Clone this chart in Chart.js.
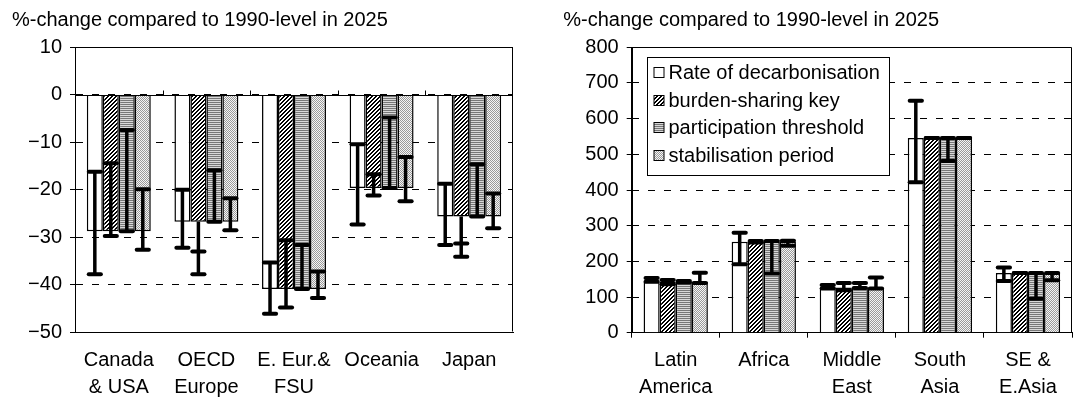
<!DOCTYPE html>
<html>
<head>
<meta charset="utf-8">
<script src="https://cdn.jsdelivr.net/npm/chart.js@4"></script>
<style>
  html, body { margin: 0; padding: 0; background: #fff; }
  #wrap { position: relative; width: 1074px; height: 397px; overflow: hidden; background: #fff; }
  canvas { position: absolute; top: 0; }
  #cLeft { left: 0; }
  #cRight { left: 537px; }
</style>
</head>
<body>
<div id="wrap">
  <canvas id="cLeft" width="537" height="397"></canvas>
  <canvas id="cRight" width="537" height="397"></canvas>
</div>
<script>
// ---- data ---------------------------------------------------------------
const axisTitle = '%-change compared to 1990-level in 2025';
const seriesNames = ['Rate of decarbonisation', 'burden-sharing key', 'participation threshold', 'stabilisation period'];

// Annex I regions
const leftCategories = [['Canada', '& USA'], ['OECD', 'Europe'], ['E. Eur.&', 'FSU'], 'Oceania', 'Japan'];
const leftTicks = [10, 0, -10, -20, -30, -40, -50];
const leftRate          = [-28.7, -26.7, -40.9, -19.6, -25.6];
const leftBurden        = [-28.7, -26.7, -40.9, -19.6, -25.6];
const leftThreshold     = [-28.7, -26.7, -40.9, -19.6, -25.6];
const leftStabilisation = [-28.7, -26.7, -40.9, -19.6, -25.6];
// uncertainty range ends [first, second] per region
const leftRateRange          = [[-16.2, -37.8], [-20.0, -32.2], [-35.3, -46.1], [-10.4, -27.3], [-18.7, -31.6]];
const leftBurdenRange        = [[-14.4, -29.7], [-33.0, -37.8], [-30.6, -44.8], [-16.7, -21.2], [-31.3, -34.1]];
const leftThresholdRange     = [[-7.4, -28.7],  [-15.9, -26.7], [-31.6, -40.9], [-4.8, -19.6],  [-14.6, -25.6]];
const leftStabilisationRange = [[-19.9, -32.6], [-21.8, -28.5], [-37.2, -42.8], [-13.1, -22.4], [-20.8, -28.1]];

// non-Annex I regions
const rightCategories = [['Latin', 'America'], 'Africa', ['Middle', 'East'], ['South', 'Asia'], ['SE &', 'E.Asia']];
const rightTicks = [0, 100, 200, 300, 400, 500, 600, 700, 800];
const rightRate          = [143, 255, 127, 546, 167];
const rightBurden        = [143, 255, 127, 546, 167];
const rightThreshold     = [143, 255, 127, 546, 167];
const rightStabilisation = [143, 255, 127, 546, 167];
const rightRateRange          = [[153, 143], [280, 192], [134, 124], [650, 422], [183, 145]];
const rightBurdenRange        = [[148, 136], [257, 253], [139, 119], [546, 546], [167, 167]];
const rightThresholdRange     = [[145, 141], [257, 166], [139, 125], [546, 481], [167, 95]];
const rightStabilisationRange = [[168, 139], [258, 244], [155, 124], [546, 546], [167, 147]];

// ---- fills ----------------------------------------------------------------
function makeFill(ctx, kind) {
  const c = document.createElement('canvas');
  const g = c.getContext('2d');
  if (kind === 'plain') return '#ffffff';
  if (kind === 'hatch') {
    c.width = 4; c.height = 4;
    g.fillStyle = '#ffffff'; g.fillRect(0, 0, 4, 4);
    g.fillStyle = '#000000';
    for (let y = 0; y < 4; y++) {
      g.fillRect((3 - y + 4) % 4, y, 1, 1);
      g.fillRect((4 - y + 4) % 4, y, 1, 1);
    }
  } else if (kind === 'stripes') {
    c.width = 1; c.height = 2;
    g.fillStyle = '#777777'; g.fillRect(0, 0, 1, 1);
    g.fillStyle = '#d8d8d8'; g.fillRect(0, 1, 1, 1);
  } else {
    c.width = 2; c.height = 2;
    g.fillStyle = '#f5f5f5'; g.fillRect(0, 0, 2, 2);
    g.fillStyle = '#9a9a9a'; g.fillRect(0, 0, 1, 1); g.fillRect(1, 1, 1, 1);
  }
  return ctx.createPattern(c, 'repeat');
}
const fillKinds = ['plain', 'hatch', 'stripes', 'dots'];

// ---- plugins --------------------------------------------------------------
const rangeBars = {
  id: 'rangeBars',
  afterDatasetsDraw(chart) {
    const ctx = chart.ctx;
    const ys = chart.scales.y;
    chart.data.datasets.forEach((ds, di) => {
      const meta = chart.getDatasetMeta(di);
      (ds.ranges || []).forEach((r, i) => {
        const bar = meta.data[i];
        if (!bar) return;
        const x = bar.x;
        const v = ys.getPixelForValue(ds.data[i]);
        const a = ys.getPixelForValue(r[0]);
        const b = ys.getPixelForValue(r[1]);
        const top = Math.min(v, a, b), bot = Math.max(v, a, b);
        ctx.save();
        ctx.strokeStyle = '#000';
        ctx.lineWidth = 3.5;
        ctx.beginPath(); ctx.moveTo(x, top); ctx.lineTo(x, bot); ctx.stroke();
        ctx.lineWidth = 4;
        ctx.lineCap = 'round';
        const half = bar.width * 0.38;
        [a, b].forEach(e => {
          ctx.beginPath(); ctx.moveTo(x - half, e); ctx.lineTo(x + half, e); ctx.stroke();
        });
        ctx.restore();
      });
    });
  }
};

const frame = {
  id: 'frame',
  afterDraw(chart, args, opts) {
    const ctx = chart.ctx;
    const ca = chart.chartArea;
    ctx.save();
    ctx.strokeStyle = '#000';
    ctx.lineWidth = 1;
    const L = Math.round(ca.left) + 0.5, R = Math.round(ca.right) - 0.5;
    const T = Math.round(ca.top) + 0.5, B = Math.round(ca.bottom) - 0.5;
    ctx.beginPath();
    ctx.moveTo(L, B); ctx.lineTo(L, T); ctx.lineTo(R, T); ctx.lineTo(R, B);
    ctx.stroke();
    if (opts.zeroLine) {
      const y0 = Math.round(chart.scales.y.getPixelForValue(0)) + 0.5;
      ctx.beginPath(); ctx.moveTo(L, y0); ctx.lineTo(R, y0); ctx.stroke();
      const n = chart.data.labels.length;
      const step = (ca.right - ca.left) / n;
      ctx.beginPath();
      for (let i = 1; i < n; i++) {
        const x = Math.round(ca.left + i * step) + 0.5;
        ctx.moveTo(x, y0 - 5); ctx.lineTo(x, y0);
      }
      ctx.stroke();
    }
    ctx.restore();
  }
};

const boxLegend = {
  id: 'boxLegend',
  afterDraw(chart, args, opts) {
    if (!opts.show) return;
    const ctx = chart.ctx;
    const ca = chart.chartArea;
    const x0 = Math.round(ca.left + 15) + 0.5, y0 = Math.round(ca.top + 9.5) + 0.5;
    const w = 242, h = 118;
    ctx.save();
    ctx.fillStyle = '#fff';
    ctx.fillRect(x0, y0, w, h);
    ctx.strokeStyle = '#000'; ctx.lineWidth = 1;
    ctx.strokeRect(x0, y0, w, h);
    ctx.font = "20px 'Liberation Sans', Arial, sans-serif";
    ctx.textBaseline = 'middle';
    chart.data.datasets.forEach((ds, i) => {
      const cy = y0 + 15 + i * 27.7;
      const sx = x0 + 6.5, sy = Math.round(cy - 5.5) + 0.5;
      ctx.fillStyle = ds.backgroundColor;
      ctx.fillRect(sx, sy, 10, 10);
      ctx.strokeStyle = '#000';
      ctx.strokeRect(sx, sy, 10, 10);
      ctx.fillStyle = '#000';
      ctx.fillText(ds.label, x0 + 21, cy + 1);
    });
    ctx.restore();
  }
};

Chart.defaults.font.family = "'Liberation Sans', Arial, sans-serif";
Chart.defaults.font.size = 20;
Chart.defaults.color = '#000';

function minusFmt(v) { return v < 0 ? '\u2212' + Math.abs(v) : String(v); }

function buildChart(canvas, cfg) {
  const ctx = canvas.getContext('2d');
  const datasets = cfg.series.map((vals, i) => ({
    label: seriesNames[i],
    data: vals,
    ranges: cfg.ranges[i],
    backgroundColor: makeFill(ctx, fillKinds[i]),
    borderColor: '#000',
    borderWidth: 1.5,
    categoryPercentage: 0.73,
    barPercentage: 1.0
  }));
  return new Chart(ctx, {
    type: 'bar',
    data: { labels: cfg.categories, datasets },
    plugins: [rangeBars, frame, boxLegend],
    options: {
      responsive: false,
      animation: false,
      devicePixelRatio: 1,
      layout: { padding: { left: cfg.padLeft, right: cfg.padRight, top: 0, bottom: 0 } },
      plugins: {
        legend: { display: false },
        tooltip: { enabled: false },
        title: {
          display: true, text: axisTitle, align: 'start', color: '#000',
          font: { size: 20, weight: 'normal', lineHeight: 1.2 },
          padding: { top: 8.5, bottom: 14.8 }
        },
        frame: { zeroLine: cfg.zeroLine },
        boxLegend: { show: cfg.legend }
      },
      scales: {
        x: {
          grid: { display: cfg.xTicks, drawOnChartArea: false, offset: true, tickLength: 5, color: '#000', drawTicks: cfg.xTicks },
          border: { display: true, color: '#000', width: 1 },
          ticks: { padding: cfg.xTicks ? 9 : 14.2, font: { size: 20, lineHeight: 1.35 }, maxRotation: 0, autoSkip: false },
          afterFit(s) { s.height = cfg.xHeight; }
        },
        y: {
          min: cfg.min, max: cfg.max,
          afterBuildTicks(s) { s.ticks = cfg.ticks.map(v => ({ value: v })).sort((p, q) => p.value - q.value); },
          grid: { color: '#000', lineWidth: 1, tickLength: 5, tickColor: '#000', tickBorderDash: [0, 0] },
          border: { display: true, color: '#000', width: 1, dash: [7, 9] },
          ticks: { padding: 8, font: { size: 20 }, callback: v => minusFmt(v) },
          afterFit(s) { s.width = cfg.yWidth; }
        }
      }
    }
  });
}

buildChart(document.getElementById('cLeft'), {
  categories: leftCategories,
  series: [leftRate, leftBurden, leftThreshold, leftStabilisation],
  ranges: [leftRateRange, leftBurdenRange, leftThresholdRange, leftStabilisationRange],
  ticks: leftTicks, min: -50, max: 10,
  padLeft: 12, padRight: 24, yWidth: 63, xHeight: 64.7,
  zeroLine: true, xTicks: false, legend: false
});

buildChart(document.getElementById('cRight'), {
  categories: rightCategories,
  series: [rightRate, rightBurden, rightThreshold, rightStabilisation],
  ranges: [rightRateRange, rightBurdenRange, rightThresholdRange, rightStabilisationRange],
  ticks: rightTicks, min: 0, max: 800,
  padLeft: 26.3, padRight: 2, yWidth: 68.4, xHeight: 64.3,
  zeroLine: false, xTicks: true, legend: true
});
</script>
</body>
</html>
